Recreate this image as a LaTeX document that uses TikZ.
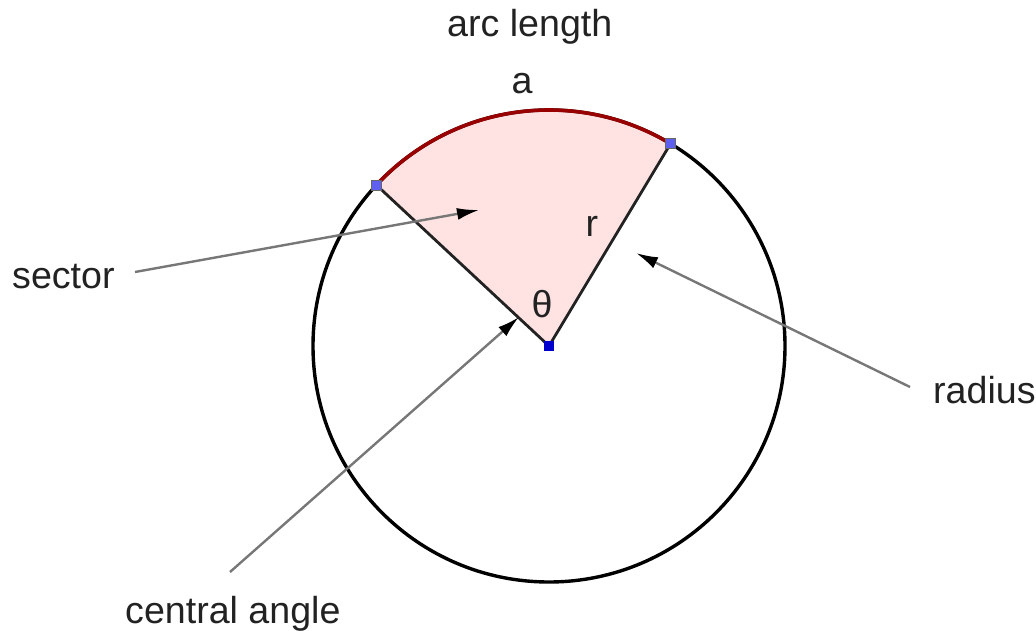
\documentclass[tikz,border=0pt]{standalone}
\usepackage{fontspec}
\setmainfont{Liberation Sans}
\usetikzlibrary{arrows.meta}
\definecolor{sectorfill}{HTML}{FFE3E3}
\definecolor{arcred}{HTML}{990000}
\definecolor{ptblue}{HTML}{6060F0}
\definecolor{ctrblue}{HTML}{0000CC}
\definecolor{txt}{HTML}{222222}
\definecolor{pointer}{HTML}{777777}
\tikzset{
  lbl/.style={font=\fontsize{37.6}{40}\selectfont, text=txt, inner sep=0pt, anchor=base west},
  sym/.style={font=\fontsize{37.6}{40}\selectfont, text=txt, inner sep=0pt},
  pointerline/.style={draw=pointer, line width=2.4pt, -{Latex[length=22pt,width=12pt,color=black]}},
  edgept/.style={rectangle, minimum size=10pt, inner sep=0pt, fill=ptblue, draw=black!60, line width=0.8pt},
  ctrpt/.style={rectangle, minimum size=10pt, inner sep=0pt, fill=ctrblue},
}
\begin{document}
\begin{tikzpicture}[x=1pt,y=1pt]
\useasboundingbox (0,0) rectangle (1036,-631);
\coordinate (c) at (549,-346);
\path (c) ++(137:236pt) coordinate (A);
\path (c) ++(59:236pt) coordinate (B);
% sector
\fill[sectorfill] (c) -- (B) arc[start angle=59,end angle=137,radius=236pt] -- cycle;
% circle
\draw[black, line width=3.4pt] (c) circle[radius=236pt];
% arc
\draw[arcred, line width=3.6pt] (B) arc[start angle=59,end angle=137,radius=236pt];
% radii
\draw[txt, line width=2.8pt] (A) -- (c) -- (B);
% points
\node[edgept] (pA) at (A) {};
\node[edgept] (pB) at (B) {};
\node[ctrpt] (pc) at (c) {};
% labels
\node[lbl] (arclen) at (447,-37) {arc length};
\node[sym] (alab) at (522,-84) {a};
\node[sym] (rlab) at (592,-226) {r};
\node[sym] (thlab) at (542,-304) {θ};
\node[lbl] (sector) at (12,-288) {sector};
\node[lbl] (radius) at (933,-403) {radius};
\node[lbl] (central) at (125,-623) {central angle};
% pointers
\coordinate (s0) at (135,-272);
\coordinate (s1) at (479,-210);
\coordinate (r0) at (910,-387);
\coordinate (r1) at (636,-253);
\coordinate (c0) at (230,-572);
\coordinate (c1) at (519,-317);
\draw[pointerline] (s0) -- (s1);
\draw[pointerline] (r0) -- (r1);
\draw[pointerline] (c0) -- (c1);
\end{tikzpicture}
\end{document}
